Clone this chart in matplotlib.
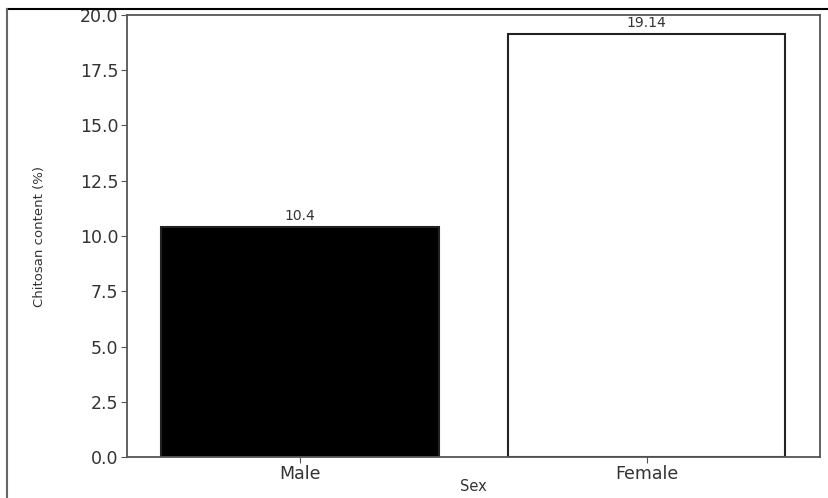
import matplotlib.pyplot as plt
from matplotlib.lines import Line2D

plt.rcParams['font.family'] = ['DejaVu Sans']

sexes = ['Male', 'Female']
chitosan = [10.4, 19.14]
bar_colors = ['black', 'white']
yticks = [0.0, 2.5, 5.0, 7.5, 10.0, 12.5, 15.0, 17.5, 20.0]

fig = plt.figure(figsize=(8.29, 4.98), dpi=100)
ax = fig.add_axes([0.153, 0.082, 0.836, 0.888])

x = range(len(sexes))
bars = ax.bar(x, chitosan, width=0.8, color=bar_colors, edgecolor='#222222', linewidth=1.5)
for i, v in enumerate(chitosan):
    ax.annotate(str(v), (i, v), xytext=(0, 3), textcoords='offset points',
                ha='center', va='bottom', fontsize=10, color='#333333')

ax.set_xlim(-0.5, 1.5)
ax.set_ylim(0, 20)
ax.set_xticks(list(x))
ax.set_xticklabels(sexes, fontsize=12.5, color='#333333')
ax.set_yticks(yticks)
ax.set_yticklabels(['%.1f' % t for t in yticks], fontsize=12.5, color='#333333')
ax.set_ylabel('Chitosan content (%)', fontsize=9.5, color='#333333')
ax.yaxis.set_label_coords(-0.117, 0.5)
ax.set_xlabel('Sex', fontsize=10.5, color='#333333')
ax.xaxis.set_label_coords(0.5, -0.05)
for s in ax.spines.values():
    s.set_color('#555555')
    s.set_linewidth(1.3)
ax.tick_params(color='#555555', length=4, pad=2)

# outer frame lines of the original image
fig.add_artist(Line2D([0.008, 1.0], [0.982, 0.982], color='black', lw=1.5, transform=fig.transFigure))
fig.add_artist(Line2D([0.009, 0.009], [0.0, 0.982], color='#666666', lw=1.5, transform=fig.transFigure))

fig.savefig('out.png', dpi=100)
